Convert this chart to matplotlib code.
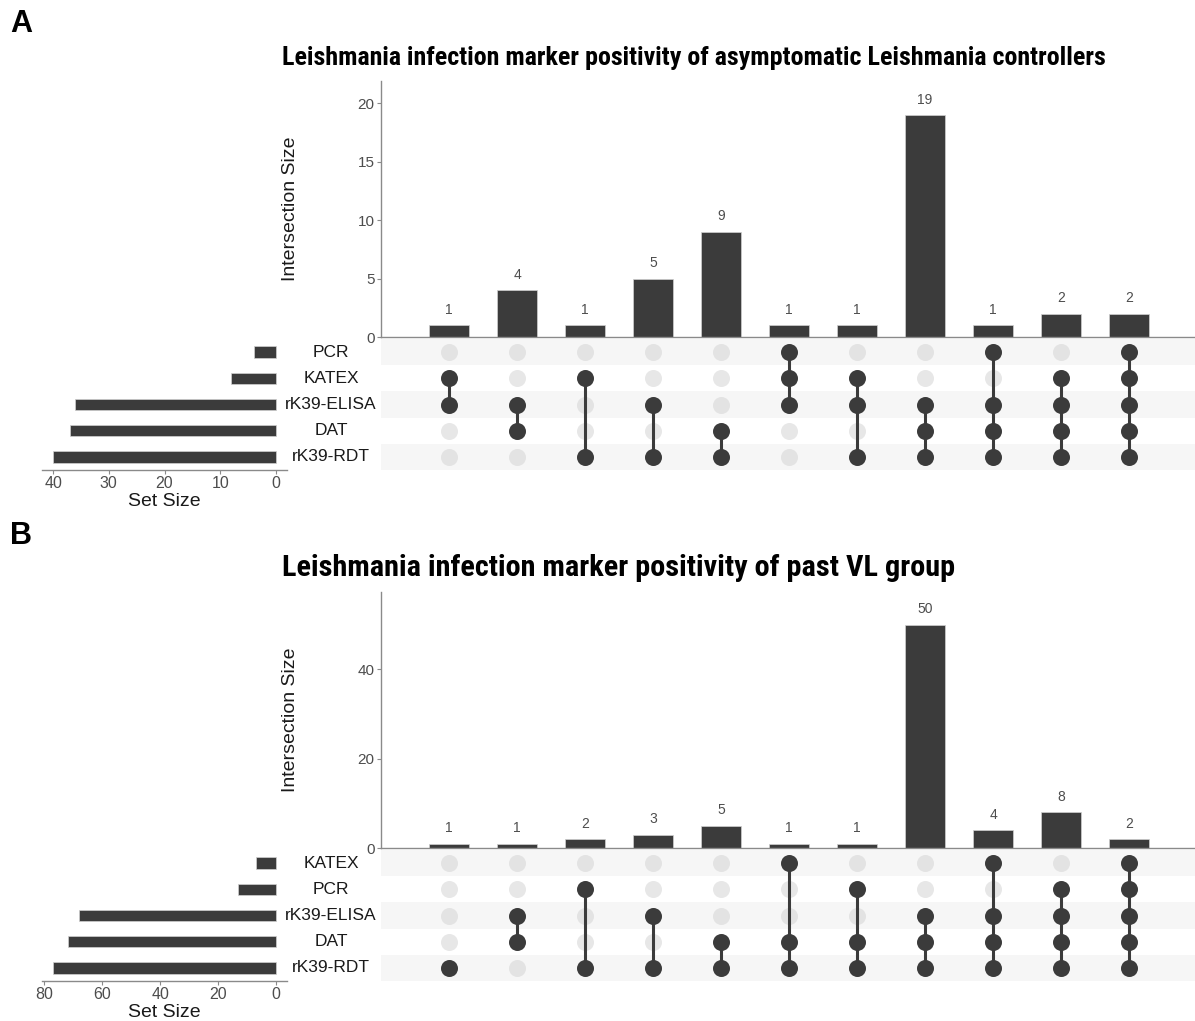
import matplotlib
matplotlib.use("Agg")
import matplotlib.pyplot as plt
import matplotlib.transforms as mtransforms

# ---------------- data ----------------
# Panel A
sets_A = ["PCR", "KATEX", "rK39-ELISA", "DAT", "rK39-RDT"]
set_sizes_A = [4, 8, 36, 37, 40]
counts_A = [1, 4, 1, 5, 9, 1, 1, 19, 1, 2, 2]
members_A = [
    ["KATEX", "rK39-ELISA"],
    ["rK39-ELISA", "DAT"],
    ["KATEX", "rK39-RDT"],
    ["rK39-ELISA", "rK39-RDT"],
    ["DAT", "rK39-RDT"],
    ["PCR", "KATEX", "rK39-ELISA"],
    ["KATEX", "rK39-ELISA", "rK39-RDT"],
    ["rK39-ELISA", "DAT", "rK39-RDT"],
    ["PCR", "rK39-ELISA", "DAT", "rK39-RDT"],
    ["KATEX", "rK39-ELISA", "DAT", "rK39-RDT"],
    ["PCR", "KATEX", "rK39-ELISA", "DAT", "rK39-RDT"],
]
title_A = "Leishmania infection marker positivity of asymptomatic Leishmania controllers"
yticks_A = [0, 5, 10, 15, 20]
xticks_set_A = [40, 30, 20, 10, 0]

# Panel B
sets_B = ["KATEX", "PCR", "rK39-ELISA", "DAT", "rK39-RDT"]
set_sizes_B = [7, 13, 68, 72, 77]
counts_B = [1, 1, 2, 3, 5, 1, 1, 50, 4, 8, 2]
members_B = [
    ["rK39-RDT"],
    ["rK39-ELISA", "DAT"],
    ["PCR", "rK39-RDT"],
    ["rK39-ELISA", "rK39-RDT"],
    ["DAT", "rK39-RDT"],
    ["KATEX", "DAT", "rK39-RDT"],
    ["PCR", "DAT", "rK39-RDT"],
    ["rK39-ELISA", "DAT", "rK39-RDT"],
    ["KATEX", "rK39-ELISA", "DAT", "rK39-RDT"],
    ["PCR", "rK39-ELISA", "DAT", "rK39-RDT"],
    ["KATEX", "PCR", "rK39-ELISA", "DAT", "rK39-RDT"],
]
title_B = "Leishmania infection marker positivity of past VL group"
yticks_B = [0, 20, 40]
xticks_set_B = [80, 60, 40, 20, 0]

# ---------------- style ----------------
W, H = 1195, 1021
DARK = "#3b3b3b"
EMPTY = "#d4d4d4"
STRIPE = "#f6f6f6"
AXCOL = "#8a8a8a"
TICKTXT = "#4d4d4d"
FONT = ["Liberation Sans", "DejaVu Sans"]
TITLEFONT = ["Roboto Condensed", "Liberation Sans Narrow", "Liberation Sans", "DejaVu Sans"]
plt.rcParams["font.family"] = FONT

fig = plt.figure(figsize=(W / 100, H / 100), dpi=100)


def box(l, t, r, b):
    return [l / W, 1 - b / H, (r - l) / W, (b - t) / H]


def panel(sets, sizes, counts, members, title, title_size, letter, yticks, xticks_set,
          letter_y, title_y, bar_box, mat_box, set_box, ytop, set_xlim):
    n = len(counts)
    xs = list(range(1, n + 1))
    nrow = len(sets)

    # letter and title
    fig.text(10 / W, 1 - letter_y / H, letter, fontsize=22, fontweight="bold",
             ha="left", va="center", family=FONT)
    fig.text(282 / W, 1 - title_y / H, title, fontsize=title_size, fontweight="bold",
             ha="left", va="center", family=TITLEFONT)

    # intersection bars
    axb = fig.add_axes(box(*bar_box))
    axb.bar(xs, counts, width=0.59, color=DARK, edgecolor="#d0d0d0", linewidth=0.5)
    for x, c in zip(xs, counts):
        axb.annotate(str(c), (x, c), xytext=(0, 6), textcoords="offset points",
                     ha="center", va="bottom", fontsize=10, color=TICKTXT)
    axb.set_xlim(0, 11.97)
    axb.set_ylim(0, ytop)
    axb.set_yticks(yticks)
    axb.set_xticks([])
    for s in ["top", "right"]:
        axb.spines[s].set_visible(False)
    for s in ["left", "bottom"]:
        axb.spines[s].set_color(AXCOL)
        axb.spines[s].set_linewidth(1.0)
    axb.tick_params(axis="y", length=3, width=0.8, color=AXCOL, labelsize=11,
                    labelcolor=TICKTXT, pad=1.5)
    axb.set_ylabel("Intersection Size", fontsize=14, color="#1a1a1a", labelpad=42)
    axb.patch.set_alpha(0)

    # matrix
    axm = fig.add_axes(box(*mat_box))
    axm.set_xlim(0, 11.97)
    axm.set_ylim(nrow - 0.5, -0.5)
    for i in range(0, nrow, 2):
        axm.axhspan(i - 0.5, i + 0.5, color=STRIPE, lw=0, zorder=0)
    for x, mem in zip(xs, members):
        rows_in = [sets.index(m) for m in mem]
        rows_out = [i for i in range(nrow) if i not in rows_in]
        axm.scatter([x] * len(rows_out), rows_out, s=150, color=EMPTY, alpha=0.55,
                    lw=0, zorder=2)
        if len(rows_in) > 1:
            axm.plot([x, x], [min(rows_in), max(rows_in)], color=DARK, lw=2.2,
                     zorder=3, solid_capstyle="butt")
        axm.scatter([x] * len(rows_in), rows_in, s=150, color=DARK, lw=0, zorder=4)
    axm.axis("off")

    # set labels
    trans = mtransforms.blended_transform_factory(fig.transFigure, axm.transData)
    for i, name in enumerate(sets):
        fig.text(331 / W, i, name, transform=trans, ha="center", va="center",
                 fontsize=12.5, color="#1a1a1a")

    # set sizes
    axs = fig.add_axes(box(*set_box))
    axs.barh(list(range(nrow)), sizes, height=0.43, color=DARK,
             edgecolor="#d0d0d0", linewidth=0.5)
    axs.set_ylim(nrow - 0.5, -0.5)
    axs.set_xlim(*set_xlim)
    axs.set_xticks(xticks_set)
    axs.set_yticks([])
    for s in ["top", "right", "left"]:
        axs.spines[s].set_visible(False)
    axs.spines["bottom"].set_color(AXCOL)
    axs.spines["bottom"].set_linewidth(1.0)
    axs.tick_params(axis="x", length=3, width=0.8, color=AXCOL, labelsize=11.5,
                    labelcolor=TICKTXT, pad=1.5)
    axs.set_xlabel("Set Size", fontsize=14, color="#1a1a1a", labelpad=1)
    axs.patch.set_alpha(0)


panel(sets_A, set_sizes_A, counts_A, members_A, title_A, 18.7, "A", yticks_A, xticks_set_A,
      letter_y=24, title_y=58, bar_box=(381, 81, 1195, 337), mat_box=(381, 339, 1195, 470),
      set_box=(42, 339, 287, 470), ytop=21.9, set_xlim=(42, -2))

panel(sets_B, set_sizes_B, counts_B, members_B, title_B, 21.8, "B", yticks_B, xticks_set_B,
      letter_y=536, title_y=568, bar_box=(381, 592, 1195, 848), mat_box=(381, 850, 1195, 981),
      set_box=(42, 850, 287, 981), ytop=57.3, set_xlim=(80.85, -3.85))

fig.savefig("out.png", dpi=100, facecolor="white")
